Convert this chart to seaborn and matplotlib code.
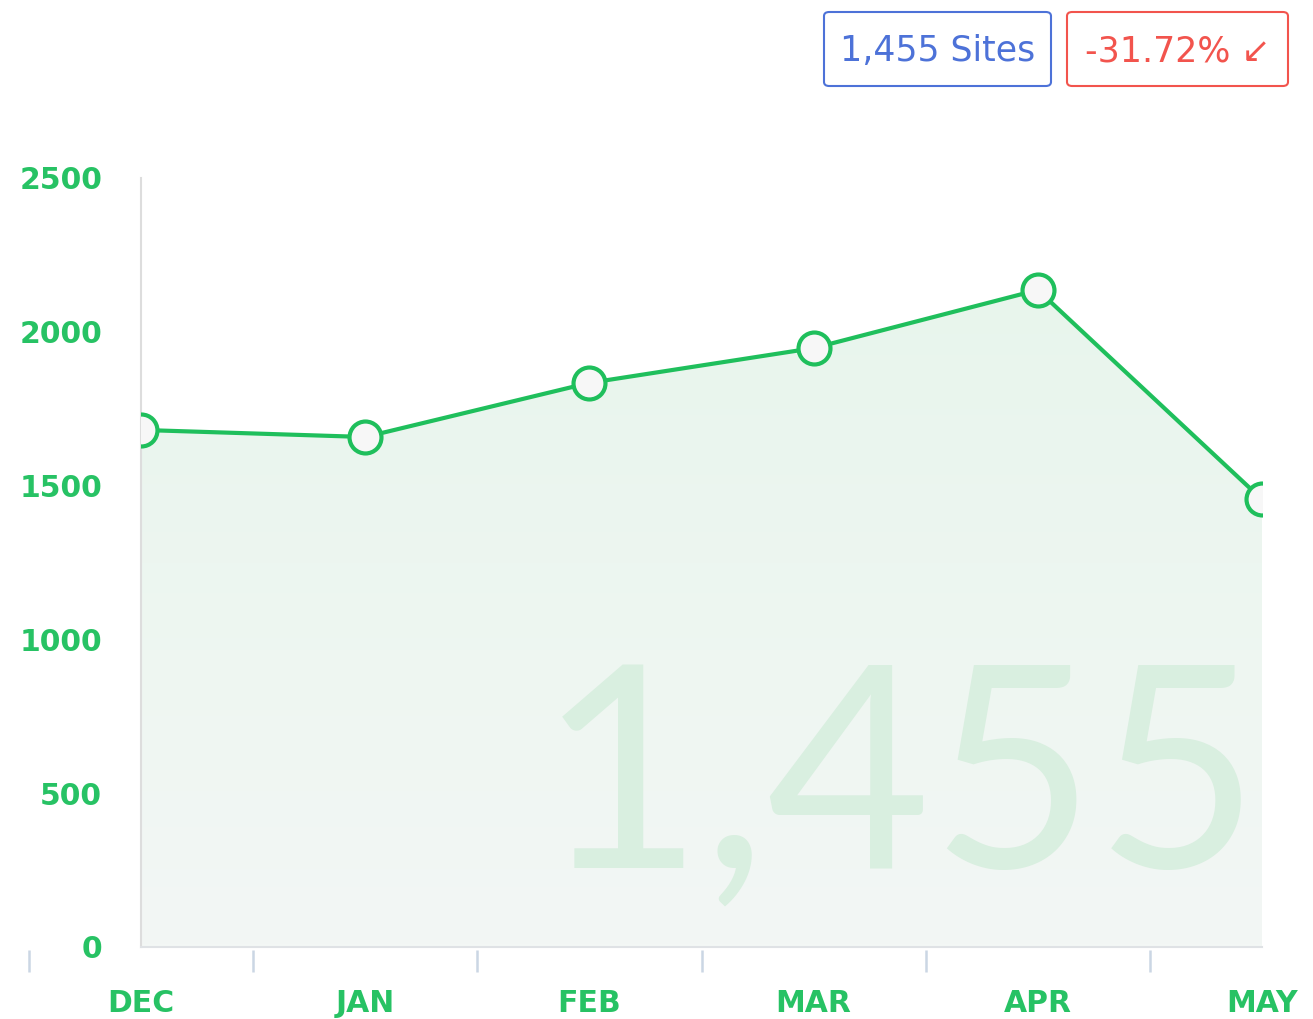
import numpy as np
import pandas as pd
import matplotlib
matplotlib.use("Agg")
import matplotlib.pyplot as plt
from matplotlib.patches import FancyBboxPatch
import seaborn as sns

months = ["DEC", "JAN", "FEB", "MAR", "APR", "MAY"]
sites = [1681, 1658, 1834, 1947, 2136, 1455]
y_ticks = [0, 500, 1000, 1500, 2000, 2500]
total_label = "1,455 Sites"
change_label = "-31.72% \u2199"
watermark = "1,455"

sns.set_style("white")
plt.rcParams["font.family"] = ["DejaVu Sans"]

GREEN = "#1fbf5c"
LABEL_GREEN = "#27c264"

fig = plt.figure(figsize=(13.13, 10.19), dpi=100)
ax = fig.add_axes([141 / 1313, 1 - 947 / 1019, 1121 / 1313, 769 / 1019])

df = pd.DataFrame({"idx": np.arange(len(months)), "sites": sites})

# gradient fill under the line
poly = ax.fill_between(df["idx"], 0, df["sites"], color="none", lw=0)
grad = np.linspace(0, 1, 256).reshape(-1, 1)
cmap = matplotlib.colors.LinearSegmentedColormap.from_list("g", ["#f3f7f5", "#e6f5eb"])
im = ax.imshow(grad, cmap=cmap, aspect="auto", origin="lower",
               extent=[0, len(months) - 1, 0, max(y_ticks)], zorder=1)
im.set_clip_path(poly.get_paths()[0], transform=ax.transData)

ax.text(0.677, 0.207, watermark, transform=ax.transAxes, ha="center", va="center",
        fontsize=204, color="#d9efe0", family=["Lato", "DejaVu Sans"], zorder=2)

sns.lineplot(data=df, x="idx", y="sites", ax=ax, color=GREEN, linewidth=3,
             marker="o", markersize=23, markeredgewidth=3,
             markeredgecolor=GREEN, markerfacecolor="#f7f7f7", zorder=5)

ax.set_xlim(0, len(months) - 1)
ax.set_ylim(0, max(y_ticks))
ax.set_xticks(np.arange(len(months)))
ax.set_xticklabels(months)
ax.set_yticks(y_ticks)
ax.set_yticklabels([str(v) for v in y_ticks])
ax.set_xlabel("")
ax.set_ylabel("")
ax.tick_params(axis="x", length=0, pad=30, labelsize=21.5, labelcolor=LABEL_GREEN)
ax.tick_params(axis="y", length=0, pad=28, labelsize=21.5, labelcolor=LABEL_GREEN)
for lbl in ax.get_xticklabels() + ax.get_yticklabels():
    lbl.set_fontweight("bold")

for s in ["top", "right"]:
    ax.spines[s].set_visible(False)
ax.spines["left"].set_color("#dddddd")
ax.spines["left"].set_linewidth(1.5)
ax.spines["bottom"].set_color("#dfe2e5")
ax.spines["bottom"].set_linewidth(1.5)
ax.grid(False)

# in-between tick marks
trans = ax.get_xaxis_transform()
tick_pos = np.arange(len(months)) - 0.5
ax.vlines(tick_pos, -0.004, -0.032, transform=trans, color="#cbd6e4",
          linewidth=1.8, clip_on=False)

# badges
def badge(x0, x1, y0, y1, text, color):
    W, H = 1313, 1019
    p = FancyBboxPatch((x0 / W, 1 - y1 / H), (x1 - x0) / W, (y1 - y0) / H,
                       boxstyle="round,pad=0,rounding_size=0.004",
                       transform=fig.transFigure, facecolor="white",
                       edgecolor=color, linewidth=1.5)
    fig.patches.append(p)
    fig.text((x0 + x1) / 2 / W, 1 - ((y0 + y1) / 2 + 2) / H, text, ha="center", va="center",
             fontsize=25, color=color)

badge(824, 1051, 12, 86, total_label, "#4d72d8")
badge(1067, 1288, 12, 86, change_label, "#f2544d")

fig.savefig("out.png", dpi=100)
